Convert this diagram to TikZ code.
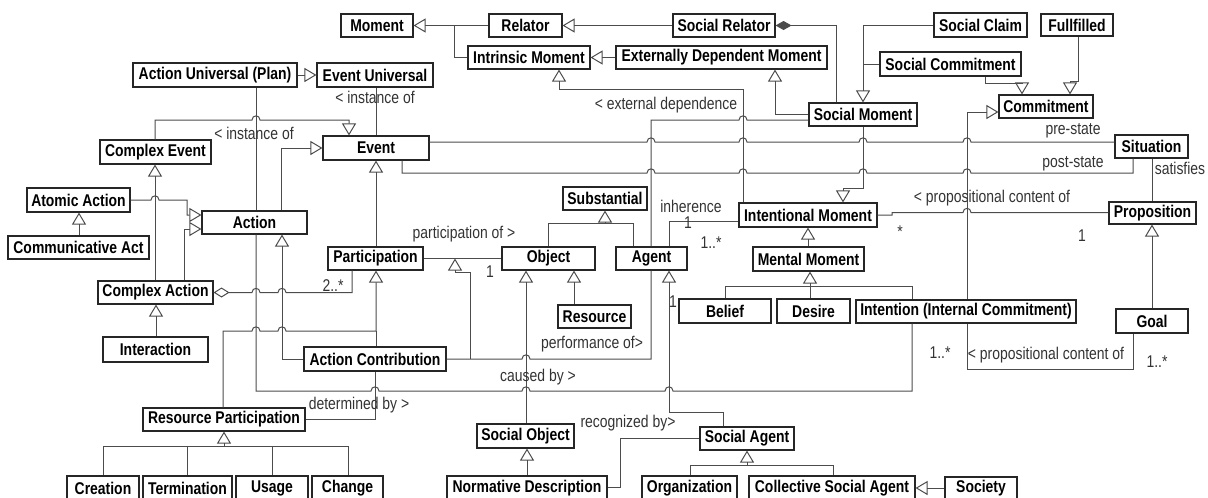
\documentclass[tikz,border=0pt]{standalone}
\usepackage{fontspec}
\setmainfont{Liberation Sans}[FakeStretch=0.82]
\usetikzlibrary{arrows.meta}
\newcommand\umlbox[6]{\node[umlb,minimum width={(#4)-(#2)},minimum height={(#5)-(#3)}] (#1) at ({((#2)+(#4))/2},{((#3)+(#5))/2}) {#6};}
\newcommand\hr[2]{-- ({#1-4},#2) .. controls ({#1-4},{#2-5.5}) and ({#1+4},{#2-5.5}) .. ({#1+4},#2)}
\newcommand\hl[2]{-- ({#1+4},#2) .. controls ({#1+4},{#2-5.5}) and ({#1-4},{#2-5.5}) .. ({#1-4},#2)}
\tikzset{
 umlb/.style={draw=black!85, line width=1.1pt, fill=white, inner sep=0pt, font=\fontsize{17}{19}\selectfont\bfseries, text=black},
 lbl/.style={inner sep=0pt, font=\fontsize{17}{19}\selectfont, text=black!80},
 conn/.style={draw=black!70, line width=1pt},
 gen/.style={conn, -{Triangle[open,length=12pt,width=14pt]}},
 comp/.style={conn, {Diamond[length=16pt,width=9pt]}-},
 aggr/.style={conn, {Diamond[open,length=16pt,width=10pt]}-},
}
\begin{document}
\begin{tikzpicture}[x=1pt,y=-1pt]
\useasboundingbox (0,0) rectangle (1208,498);
% classes
\umlbox{moment}{341}{14}{413}{37}{Moment}
\umlbox{relator}{489}{14}{562}{37}{Relator}
\umlbox{socrel}{673}{14}{775}{37}{Social Relator}
\umlbox{intrm}{468}{46}{590}{69}{Intrinsic Moment}
\umlbox{edm}{616}{46}{827}{69}{Externally Dependent Moment}
\umlbox{socclaim}{934}{13}{1027}{37}{Social Claim}
\umlbox{fulf}{1041}{14}{1113}{36}{Fullfilled}
\umlbox{soccom}{880}{52}{1021}{76}{Social Commitment}
\umlbox{commit}{999}{95}{1093}{118}{Commitment}
\umlbox{socmom}{809}{103}{917}{126}{Social Moment}
\umlbox{au}{133}{63}{297}{87}{Action Universal (Plan)}
\umlbox{eu}{317}{63}{433}{87}{Event Universal}
\umlbox{cevent}{100}{140}{211}{164}{Complex Event}
\umlbox{event}{323}{136}{429}{160}{Event}
\umlbox{situation}{1115}{135}{1188}{158}{Situation}
\umlbox{atomic}{27}{188}{130}{212}{Atomic Action}
\umlbox{commact}{8}{236}{149}{259}{Communicative Act}
\umlbox{action}{202}{211}{307}{234}{Action}
\umlbox{subst}{563}{187}{647}{210}{Substantial}
\umlbox{intm}{739}{203}{877}{227}{Intentional Moment}
\umlbox{prop}{1109}{202}{1196}{224}{Proposition}
\umlbox{partic}{328}{247}{423}{270}{Participation}
\umlbox{object}{502}{247}{595}{270}{Object}
\umlbox{agent}{616}{247}{687}{270}{Agent}
\umlbox{mentm}{753}{247}{864}{271}{Mental Moment}
\umlbox{caction}{98}{281}{213}{304}{Complex Action}
\umlbox{resource}{558}{305}{631}{328}{Resource}
\umlbox{belief}{679}{299}{771}{323}{Belief}
\umlbox{desire}{777}{299}{850}{323}{Desire}
\umlbox{intention}{856}{300}{1076}{323}{Intention (Internal Commitment)}
\umlbox{goal}{1116}{309}{1188}{333}{Goal}
\umlbox{interact}{103}{337}{208}{362}{Interaction}
\umlbox{actcontr}{304}{347}{446}{371}{Action Contribution}
\umlbox{respart}{143}{408}{305}{431}{Resource Participation}
\umlbox{socobj}{477}{424}{574}{448}{Social Object}
\umlbox{socagent}{700}{427}{794}{450}{Social Agent}
\umlbox{creation}{67}{476}{139}{500}{Creation}
\umlbox{termination}{143}{476}{232}{500}{Termination}
\umlbox{usage}{236}{476}{308}{500}{Usage}
\umlbox{change}{312}{476}{383}{500}{Change}
\umlbox{normdesc}{447}{476}{607}{500}{Normative Description}
\umlbox{org}{642}{476}{737}{500}{Organization}
\umlbox{csa}{749}{476}{915}{500}{Collective Social Agent}
\umlbox{society}{945}{477}{1017}{500}{Society}
\coordinate (rpj) at (224,446);
% connectors
\draw[gen] (relator.west) -- (moment.east);
\draw[conn] (intrm.west) -- (454,57.5) -- (moment.east -| 454,0);
\draw[gen] (socrel.west) -- (relator.east);
\draw[gen] (edm.west) -- (intrm.east);
\draw[comp] (socrel.east) -- (836,25.5) -- (socmom.north -| 836,0);
\draw[gen] (socclaim.west) -- (863,25) -- (socmom.north -| 863,0);
\draw[conn] (soccom.west) -- (863,64);
\draw[gen] (soccom.south -| 985,0) -- (985,83) -- (1022,83) -- (commit.north -| 1022,0);
\draw[gen] (fulf.south -| 1078,0) -- (1078,81) -- (1070,81) -- (commit.north -| 1070,0);
\draw[gen] (socmom.west |- 0,114) -- (775,114) -- (edm.south -| 775,0);
\draw[gen] (socmom.south -| 863,0) -- (863,188) -- (843,188) -- (intm.north -| 843,0);
\draw[gen] (au.east) -- (eu.west);
\draw[conn] (eu.south -| 376,0) -- (event.north -| 376,0);
\draw[gen] (cevent.north -| 155,0) -- (155,120) \hr{256}{120} -- (349,120) -- (event.north -| 349,0);
\draw[gen] (action.north -| 281,0) -- (281,148) -- (event.west);
\draw[conn] (au.south -| 256,0) -- (action.north -| 256,0);
\draw[conn] (action.south -| 256,0) -- (256,391) \hr{375}{391} \hr{526}{391} \hr{669}{391} -- (912,391) -- (intention.south -| 912,0);
\draw[conn] (event.east |- 0,142) \hr{651}{142} \hr{743}{142} \hr{863}{142} \hr{967}{142} -- (situation.west |- 0,142);
\draw[conn] (event.south -| 402,0) -- (402,173) \hr{651}{173} \hr{743}{173} \hr{863}{173} \hr{967}{173} -- (1133,173) -- (situation.south -| 1133,0);
\draw[gen] (partic.north -| 376,0) -- (event.south -| 376,0);
\draw[gen] (atomic.east) \hr{155}{200} -- (187,200) -- (187,215) -- (action.west |- 0,215);
\draw[gen] (commact.north -| 79,0) -- (atomic.south -| 79,0);
\draw[gen] (caction.north -| 184,0) -- (184,229) -- (action.west |- 0,229);
\draw[gen] (caction.north -| 155,0) -- (cevent.south -| 155,0);
\draw[gen] (interact.north -| 156,0) -- (caction.south -| 156,0);
\draw[aggr] (caction.east) \hr{256}{292.5} \hr{282}{292.5} -- (352,292.5) -- (partic.south -| 352,0);
\draw[gen] (respart.north -| 223,0) -- (223,331) \hr{256}{331} \hr{282}{331} -- (376,331) -- (partic.south -| 376,0);
\draw[conn] (actcontr.north -| 376,0) -- (376,331);
\draw[gen] (actcontr.west) -- (282,359) -- (action.south -| 282,0);
\draw[conn] (partic.east) -- (object.west);
\draw[gen] (actcontr.east -| 470,0) -- (470,272) -- (455,272) -- (455,258.5);
\draw[conn] (actcontr.east) \hr{526}{359} -- (651,359) -- (agent.south -| 651,0);
\draw[gen] (object.north -| 548,0) -- (548,223) -- (605,223) -- (subst.south -| 605,0);
\draw[conn] (agent.north -| 633,0) -- (633,223) -- (605,223);
\draw[gen] (resource.north -| 574,0) -- (object.south -| 574,0);
\draw[gen] (socobj.north -| 526,0) -- (object.south -| 526,0);
\draw[gen] (normdesc.north -| 527,0) -- (socobj.south -| 527,0);
\draw[conn] (normdesc.east |- 0,487) -- (620,487) -- (620,438.5) -- (socagent.west);
\draw[gen] (socagent.north -| 723,0) -- (723,412) -- (669,412) -- (agent.south -| 669,0);
\draw[gen] (org.north -| 690,0) -- (690,465) -- (747,465) -- (socagent.south -| 747,0);
\draw[conn] (csa.north -| 833,0) -- (833,465) -- (747,465);
\draw[gen] (society.west |- 0,488) -- (csa.east |- 0,488);
\draw[conn] (socmom.west |- 0,120) \hl{743}{120} -- (651,120) -- (agent.north -| 651,0);
\draw[gen] (intm.north -| 743,0) -- (743,89) -- (559,89) -- (intrm.south -| 559,0);
\draw[conn] (intm.west |- 0,221) -- (669,221) -- (agent.north -| 669,0);
\draw[gen] (mentm.north -| 808,0) -- (intm.south -| 808,0);
\draw[gen] (desire.north -| 810,0) -- (mentm.south -| 810,0);
\draw[conn] (belief.north -| 725,0) -- (725,286) -- (912,286) -- (intention.north -| 912,0);
\draw[gen] (intention.north -| 967,0) -- (967,112) -- (commit.west |- 0,112);
\draw[conn] (intention.south -| 967,0) -- (967,369) -- (1133,369) -- (goal.south -| 1133,0);
\draw[conn] (intm.east) -- (892,215) -- (892,212.5) \hr{967}{212.5} -- (prop.west |- 0,212.5);
\draw[conn] (situation.south -| 1152,0) -- (prop.north -| 1152,0);
\draw[gen] (goal.north -| 1152,0) -- (prop.south -| 1152,0);
\draw[conn] (creation.north -| 103,0) -- (103,446) -- (348,446) -- (change.north -| 348,0);
\draw[conn] (termination.north -| 187,0) -- (187,446);
\draw[conn] (usage.north -| 272,0) -- (272,446);
\draw[gen] (rpj) -- (respart.south -| rpj);
\draw[conn] (respart.east) -- (375,419.5) -- (actcontr.south -| 375,0);
% labels
\node[lbl] (l1) at (375,97) {< instance of};
\node[lbl] (l2) at (254,133) {< instance of};
\node[lbl] (l3) at (666,105) {< external dependence};
\node[lbl] (l4) at (1073,131) {pre-state};
\node[lbl] (l5) at (1073,164) {post-state};
\node[lbl] (l6) at (1180,168) {satisfies};
\node[lbl] (l7) at (992,198) {< propositional content of};
\node[lbl] (l8) at (900,232) {*};
\node[lbl] (l9) at (1082,236) {1};
\node[lbl] (l10) at (691,206) {inherence};
\node[lbl] (l11) at (688,223) {1};
\node[lbl] (l12) at (711,243) {1..*};
\node[lbl] (l13) at (464,234) {participation of >};
\node[lbl] (l14) at (490,272) {1};
\node[lbl] (l15) at (333,286) {2..*};
\node[lbl] (l16) at (592,344) {performance of>};
\node[lbl] (l17) at (538,377) {caused by >};
\node[lbl] (l18) at (359,405) {determined by >};
\node[lbl] (l19) at (628,423) {recognized by>};
\node[lbl] (l20) at (1046,355) {< propositional content of};
\node[lbl] (l21) at (940,353) {1..*};
\node[lbl] (l22) at (1157,362) {1..*};
\node[lbl] (l23) at (673,302) {1};
\end{tikzpicture}
\end{document}
